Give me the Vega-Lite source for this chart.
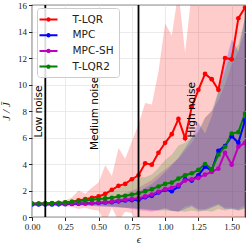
{
  "$schema": "https://vega.github.io/schema/vega-lite/v6.json",
  "width": 213,
  "height": 212,
  "autosize": "none",
  "padding": {"left": 32, "top": 5, "right": 4, "bottom": 29},
  "background": "white",
  "config": {
    "view": {"stroke": "#222222", "strokeWidth": 1.2},
    "axis": {
      "domain": false,
      "grid": true,
      "gridColor": "#e6e6e6",
      "gridWidth": 0.8,
      "tickColor": "#222222",
      "tickSize": 3.5,
      "tickWidth": 1,
      "labelFont": "Liberation Serif",
      "labelFontSize": 9,
      "labelColor": "#222222",
      "labelPadding": 2,
      "labelOverlap": false,
      "labelBound": false,
      "labelFlush": false,
      "titleFont": "Liberation Serif",
      "titleFontStyle": "italic",
      "titleFontWeight": "normal",
      "titleFontSize": 11,
      "titleColor": "#222222"
    },
    "legend": {
      "orient": "none",
      "legendX": 5,
      "legendY": 3,
      "title": null,
      "padding": 4.5,
      "rowPadding": 2.7,
      "fillColor": "rgba(255,255,255,0.85)",
      "strokeColor": "#cccccc",
      "cornerRadius": 3,
      "labelFont": "DejaVu Sans",
      "labelFontSize": 10.5,
      "labelColor": "#222222",
      "labelOffset": 17,
      "symbolSize": 144,
      "symbolOpacity": 1,
      "symbolStrokeWidth": 2,
      "symbolFillColor": "transparent",
      "symbolType": "M-1.5,0L1.5,0M-0.2,0A0.2,0.2,0,1,0,0.2,0A0.2,0.2,0,1,0,-0.2,0Z"
    }
  },
  "datasets": {
    "main": [
      {"x":0,"s":"T-LQR","y":1.0,"lo":0.95,"hi":1.05},
      {"x":0.05,"s":"T-LQR","y":1.0,"lo":0.95,"hi":1.06},
      {"x":0.1,"s":"T-LQR","y":1.01,"lo":0.93,"hi":1.08},
      {"x":0.15,"s":"T-LQR","y":1.03,"lo":0.9,"hi":1.12},
      {"x":0.2,"s":"T-LQR","y":1.05,"lo":0.85,"hi":1.18},
      {"x":0.25,"s":"T-LQR","y":1.08,"lo":0.8,"hi":1.25},
      {"x":0.3,"s":"T-LQR","y":1.15,"lo":0.75,"hi":1.5},
      {"x":0.35,"s":"T-LQR","y":1.25,"lo":0.6,"hi":2.0},
      {"x":0.4,"s":"T-LQR","y":1.35,"lo":0.7,"hi":1.75},
      {"x":0.45,"s":"T-LQR","y":1.45,"lo":0.55,"hi":2.2},
      {"x":0.5,"s":"T-LQR","y":1.55,"lo":0.5,"hi":2.6},
      {"x":0.55,"s":"T-LQR","y":1.75,"lo":-0.5,"hi":3.9},
      {"x":0.6,"s":"T-LQR","y":2.05,"lo":0.7,"hi":3.1},
      {"x":0.65,"s":"T-LQR","y":2.35,"lo":-0.3,"hi":5.2},
      {"x":0.7,"s":"T-LQR","y":2.5,"lo":0.4,"hi":4.4},
      {"x":0.75,"s":"T-LQR","y":2.85,"lo":0.3,"hi":5.7},
      {"x":0.8,"s":"T-LQR","y":3.15,"lo":-1,"hi":7.0},
      {"x":0.85,"s":"T-LQR","y":4.05,"lo":-1,"hi":8.6},
      {"x":0.9,"s":"T-LQR","y":3.95,"lo":-1,"hi":8.5},
      {"x":0.95,"s":"T-LQR","y":4.85,"lo":-1,"hi":11.0},
      {"x":1.0,"s":"T-LQR","y":5.6,"lo":-2,"hi":14.6},
      {"x":1.05,"s":"T-LQR","y":6.25,"lo":-2,"hi":13.7},
      {"x":1.1,"s":"T-LQR","y":7.4,"lo":-2,"hi":17},
      {"x":1.15,"s":"T-LQR","y":5.95,"lo":-2,"hi":12.4},
      {"x":1.2,"s":"T-LQR","y":8.3,"lo":-2,"hi":17},
      {"x":1.25,"s":"T-LQR","y":9.6,"lo":-2,"hi":17},
      {"x":1.3,"s":"T-LQR","y":10.8,"lo":-2,"hi":17},
      {"x":1.35,"s":"T-LQR","y":10.4,"lo":-2,"hi":17},
      {"x":1.4,"s":"T-LQR","y":9.6,"lo":-2,"hi":17},
      {"x":1.45,"s":"T-LQR","y":12.0,"lo":-2,"hi":17},
      {"x":1.5,"s":"T-LQR","y":11.9,"lo":-2,"hi":17},
      {"x":1.55,"s":"T-LQR","y":15.0,"lo":-2,"hi":17},
      {"x":1.6,"s":"T-LQR","y":15.8,"lo":-2,"hi":17},

      {"x":0,"s":"MPC","y":0.95,"lo":0.93,"hi":0.97},
      {"x":0.05,"s":"MPC","y":0.95,"lo":0.93,"hi":0.97},
      {"x":0.1,"s":"MPC","y":0.95,"lo":0.92,"hi":0.98},
      {"x":0.15,"s":"MPC","y":0.95,"lo":0.91,"hi":0.99},
      {"x":0.2,"s":"MPC","y":0.96,"lo":0.9,"hi":1.0},
      {"x":0.25,"s":"MPC","y":0.97,"lo":0.9,"hi":1.02},
      {"x":0.3,"s":"MPC","y":0.98,"lo":0.88,"hi":1.04},
      {"x":0.35,"s":"MPC","y":1.0,"lo":0.87,"hi":1.06},
      {"x":0.4,"s":"MPC","y":1.02,"lo":0.85,"hi":1.09},
      {"x":0.45,"s":"MPC","y":1.04,"lo":0.83,"hi":1.12},
      {"x":0.5,"s":"MPC","y":1.06,"lo":0.8,"hi":1.16},
      {"x":0.55,"s":"MPC","y":1.1,"lo":0.78,"hi":1.22},
      {"x":0.6,"s":"MPC","y":1.12,"lo":0.75,"hi":1.3},
      {"x":0.65,"s":"MPC","y":1.18,"lo":0.72,"hi":1.4},
      {"x":0.7,"s":"MPC","y":1.25,"lo":0.7,"hi":1.55},
      {"x":0.75,"s":"MPC","y":1.28,"lo":0.65,"hi":1.7},
      {"x":0.8,"s":"MPC","y":1.3,"lo":0.6,"hi":1.9},
      {"x":0.85,"s":"MPC","y":1.5,"lo":0.55,"hi":2.2},
      {"x":0.9,"s":"MPC","y":1.6,"lo":0.5,"hi":2.5},
      {"x":0.95,"s":"MPC","y":1.85,"lo":0.55,"hi":2.9},
      {"x":1.0,"s":"MPC","y":2.05,"lo":0.6,"hi":3.4},
      {"x":1.05,"s":"MPC","y":1.95,"lo":0.45,"hi":3.9},
      {"x":1.1,"s":"MPC","y":2.3,"lo":0.4,"hi":4.5},
      {"x":1.15,"s":"MPC","y":2.85,"lo":0.6,"hi":5.2},
      {"x":1.2,"s":"MPC","y":2.75,"lo":0.8,"hi":6.0},
      {"x":1.25,"s":"MPC","y":3.15,"lo":0.5,"hi":7.1},
      {"x":1.3,"s":"MPC","y":3.8,"lo":0.5,"hi":6.3},
      {"x":1.35,"s":"MPC","y":3.5,"lo":0.7,"hi":7.6},
      {"x":1.4,"s":"MPC","y":5.0,"lo":0.9,"hi":9.5},
      {"x":1.45,"s":"MPC","y":5.35,"lo":0.6,"hi":11.5},
      {"x":1.5,"s":"MPC","y":6.1,"lo":0.6,"hi":13.4},
      {"x":1.55,"s":"MPC","y":5.6,"lo":0.5,"hi":12.5},
      {"x":1.6,"s":"MPC","y":7.3,"lo":0.7,"hi":15.1},

      {"x":0,"s":"MPC-SH","y":1.0,"lo":0.98,"hi":1.02},
      {"x":0.05,"s":"MPC-SH","y":1.0,"lo":0.98,"hi":1.02},
      {"x":0.1,"s":"MPC-SH","y":1.0,"lo":0.97,"hi":1.03},
      {"x":0.15,"s":"MPC-SH","y":1.0,"lo":0.96,"hi":1.04},
      {"x":0.2,"s":"MPC-SH","y":1.0,"lo":0.95,"hi":1.06},
      {"x":0.25,"s":"MPC-SH","y":1.0,"lo":0.94,"hi":1.08},
      {"x":0.3,"s":"MPC-SH","y":1.01,"lo":0.93,"hi":1.1},
      {"x":0.35,"s":"MPC-SH","y":1.02,"lo":0.91,"hi":1.13},
      {"x":0.4,"s":"MPC-SH","y":1.04,"lo":0.9,"hi":1.17},
      {"x":0.45,"s":"MPC-SH","y":1.06,"lo":0.88,"hi":1.22},
      {"x":0.5,"s":"MPC-SH","y":1.08,"lo":0.86,"hi":1.28},
      {"x":0.55,"s":"MPC-SH","y":1.12,"lo":0.84,"hi":1.35},
      {"x":0.6,"s":"MPC-SH","y":1.16,"lo":0.8,"hi":1.45},
      {"x":0.65,"s":"MPC-SH","y":1.22,"lo":0.75,"hi":1.6},
      {"x":0.7,"s":"MPC-SH","y":1.3,"lo":0.7,"hi":1.8},
      {"x":0.75,"s":"MPC-SH","y":1.35,"lo":0.6,"hi":2.0},
      {"x":0.8,"s":"MPC-SH","y":1.4,"lo":0.5,"hi":2.2},
      {"x":0.85,"s":"MPC-SH","y":1.55,"lo":0.45,"hi":2.5},
      {"x":0.9,"s":"MPC-SH","y":1.7,"lo":0.4,"hi":2.8},
      {"x":0.95,"s":"MPC-SH","y":1.9,"lo":0.5,"hi":3.2},
      {"x":1.0,"s":"MPC-SH","y":2.1,"lo":0.7,"hi":3.6},
      {"x":1.05,"s":"MPC-SH","y":2.2,"lo":0.5,"hi":4.0},
      {"x":1.1,"s":"MPC-SH","y":2.4,"lo":0.4,"hi":4.4},
      {"x":1.15,"s":"MPC-SH","y":2.75,"lo":0.8,"hi":5.0},
      {"x":1.2,"s":"MPC-SH","y":2.85,"lo":0.9,"hi":5.6},
      {"x":1.25,"s":"MPC-SH","y":2.95,"lo":0.6,"hi":6.4},
      {"x":1.3,"s":"MPC-SH","y":3.2,"lo":0.6,"hi":7.5},
      {"x":1.35,"s":"MPC-SH","y":3.4,"lo":0.8,"hi":8.0},
      {"x":1.4,"s":"MPC-SH","y":3.65,"lo":1.0,"hi":8.8},
      {"x":1.45,"s":"MPC-SH","y":4.85,"lo":0.7,"hi":10.0},
      {"x":1.5,"s":"MPC-SH","y":3.95,"lo":0.7,"hi":11.5},
      {"x":1.55,"s":"MPC-SH","y":5.3,"lo":0.6,"hi":12.5},
      {"x":1.6,"s":"MPC-SH","y":5.6,"lo":0.9,"hi":14.0},

      {"x":0,"s":"T-LQR2","y":1.02,"lo":0.98,"hi":1.04},
      {"x":0.05,"s":"T-LQR2","y":1.02,"lo":0.98,"hi":1.05},
      {"x":0.1,"s":"T-LQR2","y":1.03,"lo":0.97,"hi":1.07},
      {"x":0.15,"s":"T-LQR2","y":1.05,"lo":0.96,"hi":1.1},
      {"x":0.2,"s":"T-LQR2","y":1.07,"lo":0.95,"hi":1.14},
      {"x":0.25,"s":"T-LQR2","y":1.1,"lo":0.94,"hi":1.18},
      {"x":0.3,"s":"T-LQR2","y":1.15,"lo":0.93,"hi":1.25},
      {"x":0.35,"s":"T-LQR2","y":1.2,"lo":0.92,"hi":1.32},
      {"x":0.4,"s":"T-LQR2","y":1.25,"lo":0.9,"hi":1.4},
      {"x":0.45,"s":"T-LQR2","y":1.3,"lo":0.88,"hi":1.5},
      {"x":0.5,"s":"T-LQR2","y":1.35,"lo":0.85,"hi":1.6},
      {"x":0.55,"s":"T-LQR2","y":1.4,"lo":0.8,"hi":1.75},
      {"x":0.6,"s":"T-LQR2","y":1.45,"lo":0.8,"hi":1.95},
      {"x":0.65,"s":"T-LQR2","y":1.55,"lo":0.75,"hi":2.15},
      {"x":0.7,"s":"T-LQR2","y":1.6,"lo":0.7,"hi":2.4},
      {"x":0.75,"s":"T-LQR2","y":1.7,"lo":0.7,"hi":2.7},
      {"x":0.8,"s":"T-LQR2","y":1.8,"lo":0.65,"hi":3.0},
      {"x":0.85,"s":"T-LQR2","y":1.95,"lo":0.6,"hi":3.0},
      {"x":0.9,"s":"T-LQR2","y":2.1,"lo":0.55,"hi":3.2},
      {"x":0.95,"s":"T-LQR2","y":2.3,"lo":0.5,"hi":3.7},
      {"x":1.0,"s":"T-LQR2","y":2.5,"lo":0.5,"hi":4.3},
      {"x":1.05,"s":"T-LQR2","y":2.6,"lo":0.45,"hi":4.7},
      {"x":1.1,"s":"T-LQR2","y":2.9,"lo":0.45,"hi":5.4},
      {"x":1.15,"s":"T-LQR2","y":3.15,"lo":0.4,"hi":5.6},
      {"x":1.2,"s":"T-LQR2","y":3.3,"lo":0.5,"hi":6.0},
      {"x":1.25,"s":"T-LQR2","y":3.55,"lo":0.4,"hi":6.5},
      {"x":1.3,"s":"T-LQR2","y":4.0,"lo":0.5,"hi":7.5},
      {"x":1.35,"s":"T-LQR2","y":3.6,"lo":0.4,"hi":8.0},
      {"x":1.4,"s":"T-LQR2","y":4.7,"lo":0.6,"hi":9.5},
      {"x":1.45,"s":"T-LQR2","y":5.3,"lo":0.5,"hi":11.0},
      {"x":1.5,"s":"T-LQR2","y":6.3,"lo":0.6,"hi":12.5},
      {"x":1.55,"s":"T-LQR2","y":6.4,"lo":0.5,"hi":13.0},
      {"x":1.6,"s":"T-LQR2","y":7.8,"lo":0.6,"hi":15.0}
    ],
    "vlines": [{"x": 0.1}, {"x": 0.8}],
    "labels": [
      {"x": 0.052, "y": 6.0, "t": "Low noise"},
      {"x": 0.47, "y": 5.05, "t": "Medium noise"},
      {"x": 1.2, "y": 6.0, "t": "High noise"}
    ]
  },
  "layer": [
    {
      "data": {"name": "main"},
      "mark": {"type": "area", "opacity": 0.2, "clip": true},
      "encoding": {
        "x": {"field": "x", "type": "quantitative", "scale": {"domain": [0, 1.6], "nice": false, "zero": false},
              "axis": {"values": [0, 0.25, 0.5, 0.75, 1, 1.25, 1.5], "format": ".2f", "title": "ϵ", "titlePadding": 2, "labelOverlap": false, "tickCount": 7}},
        "y": {"field": "lo", "type": "quantitative", "scale": {"domain": [0, 16], "nice": false},
              "axis": {"values": [0, 2, 4, 6, 8, 10, 12, 14, 16], "title": "J / J̄", "titlePadding": 6, "labelOverlap": false, "tickCount": 9}},
        "y2": {"field": "hi"},
        "color": {"field": "s", "type": "nominal",
                  "scale": {"domain": ["T-LQR", "MPC", "MPC-SH", "T-LQR2"], "range": ["#ff0000", "#0000ff", "#bf00bf", "#008000"]}}
      }
    },
    {
      "data": {"name": "main"},
      "mark": {"type": "line", "strokeWidth": 2, "clip": true},
      "encoding": {
        "x": {"field": "x", "type": "quantitative"},
        "y": {"field": "y", "type": "quantitative"},
        "color": {"field": "s", "type": "nominal"}
      }
    },
    {
      "data": {"name": "main"},
      "mark": {"type": "point", "filled": true, "size": 22, "opacity": 1, "clip": true},
      "encoding": {
        "x": {"field": "x", "type": "quantitative"},
        "y": {"field": "y", "type": "quantitative"},
        "color": {"field": "s", "type": "nominal"}
      }
    },
    {
      "data": {"name": "vlines"},
      "mark": {"type": "rule", "color": "#000000", "strokeWidth": 1.8},
      "encoding": {"x": {"field": "x", "type": "quantitative"}}
    },
    {
      "data": {"name": "labels"},
      "mark": {"type": "text", "angle": 270, "align": "left", "baseline": "middle", "font": "DejaVu Sans", "fontSize": 10.5, "color": "#000000"},
      "encoding": {
        "x": {"field": "x", "type": "quantitative"},
        "y": {"field": "y", "type": "quantitative"},
        "text": {"field": "t"}
      }
    }
  ]
}
